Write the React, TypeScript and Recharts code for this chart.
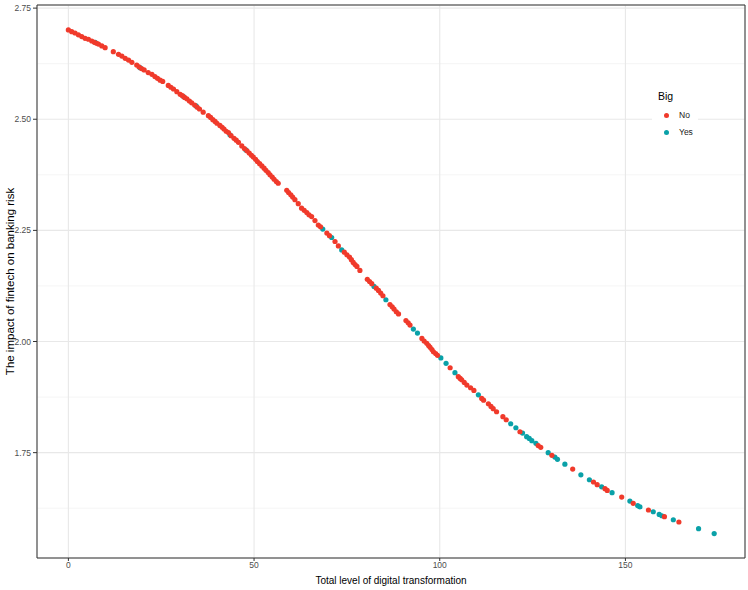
import {
  ScatterChart,
  Scatter,
  XAxis,
  YAxis,
  CartesianGrid,
  ReferenceArea,
  Legend,
} from 'recharts';

const FONT = '"Liberation Sans", Arial, Helvetica, sans-serif';

// axis ticks (major) and minor grid positions
const xTicks = [0, 50, 100, 150];
const yTicks = [1.75, 2.0, 2.25, 2.5, 2.75];
const xMinor = [25, 75, 125, 175];
const yMinor = [1.625, 1.875, 2.125, 2.375, 2.625];
const xDomain = [-8.45, 182.2];
const yDomain = [1.513, 2.757];

const groups = ['No', 'Yes'];
const groupColors = ['#F03A2B', '#0AA1A8'];

// Big = No
const bigNo = [
  { x: 0, y: 2.701 }, { x: 0.9, y: 2.697 }, { x: 1.8, y: 2.694 }, { x: 2.7, y: 2.69 },
  { x: 3.6, y: 2.686 }, { x: 4.5, y: 2.682 }, { x: 5.4, y: 2.68 }, { x: 6.3, y: 2.676 },
  { x: 7.0, y: 2.673 }, { x: 7.6, y: 2.671 },
  { x: 8.1, y: 2.669 }, { x: 9.0, y: 2.665 }, { x: 9.9, y: 2.661 }, { x: 12.1, y: 2.652 },
  { x: 13.5, y: 2.646 }, { x: 14.4, y: 2.642 }, { x: 15.3, y: 2.637 }, { x: 16.2, y: 2.633 },
  { x: 17.1, y: 2.628 }, { x: 18.4, y: 2.622 }, { x: 19.0, y: 2.618 }, { x: 19.7, y: 2.614 },
  { x: 20.4, y: 2.611 }, { x: 21.5, y: 2.605 },
  { x: 22.5, y: 2.601 }, { x: 23.3, y: 2.596 }, { x: 24.0, y: 2.592 }, { x: 24.7, y: 2.588 },
  { x: 25.4, y: 2.585 }, { x: 26.9, y: 2.576 }, { x: 27.6, y: 2.572 }, { x: 28.3, y: 2.568 },
  { x: 29.2, y: 2.562 }, { x: 30.1, y: 2.556 }, { x: 30.7, y: 2.553 }, { x: 31.3, y: 2.549 },
  { x: 31.9, y: 2.546 }, { x: 32.6, y: 2.541 },
  { x: 33.2, y: 2.537 }, { x: 34.0, y: 2.532 }, { x: 34.7, y: 2.527 }, { x: 35.3, y: 2.523 },
  { x: 36.3, y: 2.516 },
  { x: 37.7, y: 2.508 }, { x: 38.3, y: 2.504 }, { x: 38.9, y: 2.499 }, { x: 39.5, y: 2.495 },
  { x: 40.0, y: 2.491 }, { x: 40.8, y: 2.486 }, { x: 41.4, y: 2.482 }, { x: 41.9, y: 2.478 },
  { x: 42.5, y: 2.473 }, { x: 43.1, y: 2.47 }, { x: 43.8, y: 2.463 }, { x: 44.6, y: 2.457 },
  { x: 45.2, y: 2.453 },
  { x: 45.8, y: 2.448 }, { x: 46.7, y: 2.44 }, { x: 47.4, y: 2.434 }, { x: 48.1, y: 2.429 },
  { x: 48.7, y: 2.424 }, { x: 49.3, y: 2.419 },
  { x: 49.8, y: 2.415 }, { x: 50.4, y: 2.41 }, { x: 50.9, y: 2.405 }, { x: 51.5, y: 2.4 },
  { x: 52.1, y: 2.395 }, { x: 52.7, y: 2.39 }, { x: 53.2, y: 2.385 }, { x: 53.8, y: 2.38 },
  { x: 54.3, y: 2.375 }, { x: 54.9, y: 2.37 }, { x: 55.4, y: 2.365 }, { x: 56.0, y: 2.36 },
  { x: 56.5, y: 2.356 }, { x: 58.8, y: 2.34 }, { x: 59.3, y: 2.335 }, { x: 59.9, y: 2.33 },
  { x: 60.4, y: 2.325 }, { x: 61.0, y: 2.319 }, { x: 61.9, y: 2.31 }, { x: 62.8, y: 2.3 },
  { x: 63.5, y: 2.295 }, { x: 64.2, y: 2.29 }, { x: 64.8, y: 2.285 }, { x: 65.5, y: 2.281 },
  { x: 66.4, y: 2.272 }, { x: 67.3, y: 2.262 }, { x: 67.9, y: 2.258 }, { x: 69.6, y: 2.244 },
  { x: 70.3, y: 2.238 }, { x: 71.8, y: 2.225 }, { x: 72.7, y: 2.215 }, { x: 74.3, y: 2.201 },
  { x: 75.0, y: 2.195 }, { x: 75.7, y: 2.19 }, { x: 76.2, y: 2.184 }, { x: 76.7, y: 2.178 },
  { x: 77.2, y: 2.173 }, { x: 77.7, y: 2.169 }, { x: 78.5, y: 2.16 }, { x: 80.5, y: 2.14 },
  { x: 81.1, y: 2.135 }, { x: 81.7, y: 2.13 }, { x: 82.9, y: 2.12 }, { x: 83.5, y: 2.115 },
  { x: 84.1, y: 2.109 }, { x: 84.7, y: 2.103 }, { x: 86.6, y: 2.083 }, { x: 87.2, y: 2.078 },
  { x: 87.7, y: 2.073 }, { x: 88.3, y: 2.067 }, { x: 88.9, y: 2.062 }, { x: 90.9, y: 2.047 },
  { x: 91.5, y: 2.042 }, { x: 92.0, y: 2.037 }, { x: 95.2, y: 2.007 }, { x: 95.8, y: 2.001 },
  { x: 96.5, y: 1.996 }, { x: 97.0, y: 1.991 }, { x: 97.4, y: 1.987 }, { x: 97.9, y: 1.982 },
  { x: 98.3, y: 1.977 }, { x: 98.9, y: 1.973 }, { x: 99.4, y: 1.969 }, { x: 102.8, y: 1.941 },
  { x: 105.0, y: 1.921 }, { x: 105.5, y: 1.917 }, { x: 105.9, y: 1.914 }, { x: 106.6, y: 1.908 },
  { x: 107.3, y: 1.902 }, { x: 108.3, y: 1.896 }, { x: 109.2, y: 1.89 }, { x: 111.3, y: 1.872 },
  { x: 111.8, y: 1.868 }, { x: 113.1, y: 1.86 }, { x: 113.8, y: 1.854 }, { x: 114.4, y: 1.849 },
  { x: 115.3, y: 1.842 }, { x: 117.0, y: 1.831 }, { x: 117.9, y: 1.824 }, { x: 121.6, y: 1.797 },
  { x: 126.5, y: 1.766 }, { x: 127.2, y: 1.762 }, { x: 130.2, y: 1.744 }, { x: 135.8, y: 1.713 },
  { x: 141.4, y: 1.684 }, { x: 142.4, y: 1.678 }, { x: 144.5, y: 1.669 }, { x: 145.1, y: 1.665 },
  { x: 149.0, y: 1.65 }, { x: 152.1, y: 1.636 }, { x: 156.2, y: 1.621 }, { x: 160.5, y: 1.606 },
  { x: 164.4, y: 1.594 },
];

// Big = Yes
const bigYes = [
  { x: 7.2, y: 2.673 }, { x: 19.3, y: 2.616 }, { x: 31.0, y: 2.551 }, { x: 34.4, y: 2.53 },
  { x: 43.5, y: 2.465 }, { x: 47.8, y: 2.431 }, { x: 68.5, y: 2.253 }, { x: 70.9, y: 2.234 },
  { x: 73.6, y: 2.206 }, { x: 82.3, y: 2.124 }, { x: 85.5, y: 2.094 }, { x: 92.9, y: 2.028 },
  { x: 94.0, y: 2.019 }, { x: 100.3, y: 1.963 }, { x: 101.7, y: 1.951 }, { x: 104.1, y: 1.93 },
  { x: 110.4, y: 1.88 }, { x: 119.1, y: 1.815 }, { x: 120.5, y: 1.806 }, { x: 122.3, y: 1.794 },
  { x: 123.4, y: 1.786 }, { x: 124.1, y: 1.782 }, { x: 124.8, y: 1.777 }, { x: 125.9, y: 1.771 },
  { x: 129.2, y: 1.75 }, { x: 131.0, y: 1.74 }, { x: 131.7, y: 1.735 }, { x: 133.7, y: 1.724 },
  { x: 138.0, y: 1.7 }, { x: 140.3, y: 1.689 }, { x: 143.6, y: 1.673 }, { x: 146.4, y: 1.66 },
  { x: 151.2, y: 1.641 }, { x: 153.3, y: 1.631 }, { x: 153.9, y: 1.628 }, { x: 157.5, y: 1.617 },
  { x: 159.1, y: 1.611 }, { x: 159.8, y: 1.608 }, { x: 162.9, y: 1.599 }, { x: 169.7, y: 1.579 },
  { x: 173.9, y: 1.568 },
];

// small filled dot, like ggplot's default point
const Dot = (props: any) => <circle cx={props.cx} cy={props.cy} r={2.6} fill={props.fill} />;

function BigLegend() {
  return (
    <div style={{ background: '#fff', fontFamily: FONT, width: 46, paddingBottom: 4 }}>
      <div style={{ fontSize: 10.5, lineHeight: '16px', paddingLeft: 6, color: '#000' }}>Big</div>
      <div style={{ height: 2.5 }} />
      {groups.map((g, i) => (
        <div key={g} style={{ display: 'flex', alignItems: 'center', height: 17 }}>
          <span
            style={{
              display: 'inline-block',
              width: 5,
              height: 5,
              borderRadius: '50%',
              background: groupColors[i],
              marginLeft: 11.5,
              marginRight: 10.5,
            }}
          />
          <span style={{ fontSize: 8.5, color: '#1a1a1a' }}>{g}</span>
        </div>
      ))}
    </div>
  );
}

export default function App() {
  const tickStyle = { fontSize: 8.5, fill: '#4D4D4D', fontFamily: FONT };
  return (
    <div style={{ position: 'absolute', top: 0, left: 0, background: '#fff', fontFamily: FONT }}>
      <ScatterChart width={748} height={590} margin={{ top: 5, right: 3, bottom: 0, left: 0 }}>
        <CartesianGrid xAxisId="minor" yAxisId="minor" stroke="#F2F2F2" strokeWidth={0.8} />
        <CartesianGrid stroke="#E8E8E8" strokeWidth={1.1} />
        <XAxis
          xAxisId="minor"
          type="number"
          domain={xDomain}
          ticks={xMinor}
          allowDataOverflow
          hide
        />
        <YAxis
          yAxisId="minor"
          type="number"
          domain={yDomain}
          ticks={yMinor}
          allowDataOverflow
          hide
        />
        <XAxis
          type="number"
          dataKey="x"
          domain={xDomain}
          ticks={xTicks}
          allowDataOverflow
          height={32}
          axisLine={false}
          tickLine={{ stroke: '#333' }}
          tickSize={3}
          tickMargin={1}
          tick={tickStyle}
          label={{
            value: 'Total level of digital transformation',
            position: 'insideBottom',
            offset: 6,
            style: { fontSize: 10, fill: '#000', fontFamily: FONT },
          }}
        />
        <YAxis
          type="number"
          dataKey="y"
          domain={yDomain}
          ticks={yTicks}
          allowDataOverflow
          width={37}
          axisLine={false}
          tickLine={{ stroke: '#333' }}
          tickSize={4}
          tickMargin={2}
          tick={tickStyle}
          tickFormatter={(v: number) => v.toFixed(2)}
          label={{
            value: 'The impact of fintech on banking risk',
            angle: -90,
            position: 'insideLeft',
            offset: 10,
            style: { fontSize: 11.5, fill: '#000', textAnchor: 'middle', fontFamily: FONT },
          }}
        />
        <ReferenceArea
          x1={xDomain[0]}
          x2={xDomain[1]}
          y1={yDomain[0]}
          y2={yDomain[1]}
          fill="none"
          stroke="#333"
          strokeWidth={1}
          ifOverflow="visible"
        />
        <Scatter
          name={groups[1]}
          data={bigYes}
          fill={groupColors[1]}
          shape={Dot}
          isAnimationActive={false}
        />
        <Scatter
          name={groups[0]}
          data={bigNo}
          fill={groupColors[0]}
          shape={Dot}
          isAnimationActive={false}
        />
        <Legend
          layout="vertical"
          align="center"
          verticalAlign="middle"
          width={46}
          wrapperStyle={{ left: 652, top: 88, width: 46 }}
          content={() => <BigLegend />}
        />
      </ScatterChart>
    </div>
  );
}
